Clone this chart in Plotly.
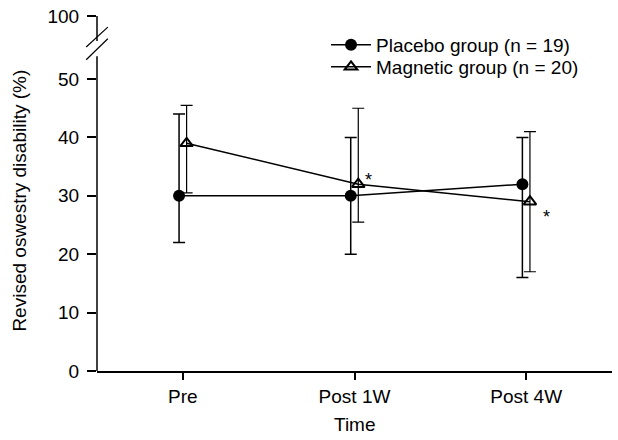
import plotly.graph_objects as go

categories = ["Pre", "Post 1W", "Post 4W"]
placebo_mean = [30, 30, 32]
placebo_low = [22, 20, 16]
placebo_high = [44, 40, 40]
magnetic_mean = [39, 32, 29]
magnetic_low = [30.5, 25.5, 17]
magnetic_high = [45.5, 45, 41]
ytick_vals = [0, 10, 20, 30, 40, 50]
ytick_top_label = "100"
ytick_top_pos = 60.8

FONT = "Liberation Sans, Arial, sans-serif"
FS = 19
off = 0.022
xc = list(range(len(categories)))
xp = [x - off for x in xc]
xm = [x + off for x in xc]

fig = go.Figure()
fig.add_trace(go.Scatter(
    x=xp, y=placebo_mean, mode="lines+markers", name="Placebo group (n = 19)",
    legend="legend",
    line=dict(color="black", width=1.5),
    marker=dict(symbol="circle", size=12, color="black"),
    error_y=dict(type="data", symmetric=False,
                 array=[h - m for h, m in zip(placebo_high, placebo_mean)],
                 arrayminus=[m - l for m, l in zip(placebo_mean, placebo_low)],
                 color="black", thickness=1.5, width=6),
))
fig.add_trace(go.Scatter(
    x=xm, y=magnetic_mean, mode="lines+markers", name="Magnetic group (n = 20)",
    legend="legend2",
    line=dict(color="black", width=1.5),
    marker=dict(symbol="triangle-up-open", size=11, color="black", line=dict(width=2)),
    error_y=dict(type="data", symmetric=False,
                 array=[h - m for h, m in zip(magnetic_high, magnetic_mean)],
                 arrayminus=[m - l for m, l in zip(magnetic_mean, magnetic_low)],
                 color="black", thickness=1.2, width=6),
))

# asterisks
ast_shift = {1: (10, 4), 2: (17, -15)}
for i, (dx, dy) in ast_shift.items():
    fig.add_annotation(x=xm[i], y=magnetic_mean[i], text="*", showarrow=False,
                       xshift=dx, yshift=dy,
                       font=dict(size=18, family=FONT, color="black"))

# axis titles
fig.add_annotation(xref="paper", yref="paper", x=-0.1495, y=0.48,
                   xanchor="center", yanchor="middle",
                   text="Revised oswestry disability (%)", textangle=-90,
                   showarrow=False, font=dict(size=FS, family=FONT, color="black"))
fig.add_annotation(xref="paper", yref="paper", x=0.5, y=-0.152, text="Time",
                   xanchor="center", yanchor="middle",
                   showarrow=False, font=dict(size=FS, family=FONT, color="black"))

# y axis line with break
shapes = [
    dict(type="line", xref="paper", yref="y", x0=0, x1=0, y0=0, y1=53.9,
         line=dict(color="black", width=1.5)),
    dict(type="line", xref="paper", yref="y", x0=0, x1=0, y0=56.5, y1=ytick_top_pos,
         line=dict(color="black", width=1.5)),
    dict(type="line", xref="x domain", yref="y", x0=-0.021, x1=0.021, y0=53.3, y1=56.9,
         line=dict(color="black", width=1.2)),
    dict(type="line", xref="x domain", yref="y", x0=-0.021, x1=0.021, y0=55.5, y1=58.9,
         line=dict(color="black", width=1.2)),
]
fig.update_layout(shapes=shapes)

leg_common = dict(xanchor="left", yanchor="top", bgcolor="rgba(0,0,0,0)",
                  font=dict(size=FS), itemwidth=40)
fig.update_layout(
    width=618, height=440,
    margin=dict(l=97, r=6, t=16, b=69, autoexpand=False),
    paper_bgcolor="white", plot_bgcolor="white",
    font=dict(family=FONT, size=FS, color="black"),
    showlegend=True,
    legend=dict(x=0.4447, y=0.972, **leg_common),
    legend2=dict(x=0.4447, y=0.910, **leg_common),
    xaxis=dict(range=[-0.5, 2.5], tickvals=xc, ticktext=categories,
               showline=True, linecolor="black", linewidth=1.5,
               ticks="outside", ticklen=7, tickcolor="black", tickwidth=1.5,
               showgrid=False, zeroline=False, automargin=False),
    yaxis=dict(range=[0, ytick_top_pos], tickvals=ytick_vals + [ytick_top_pos],
               ticktext=[str(v) for v in ytick_vals] + [ytick_top_label],
               showline=False, ticks="outside", ticklen=9, tickcolor="black",
               tickwidth=1.5, showgrid=False, zeroline=False, automargin=False,
               ticklabelstandoff=4),
)

fig.write_html("out.html", config={"displayModeBar": False},
               post_script="document.body.style.margin='0';")
